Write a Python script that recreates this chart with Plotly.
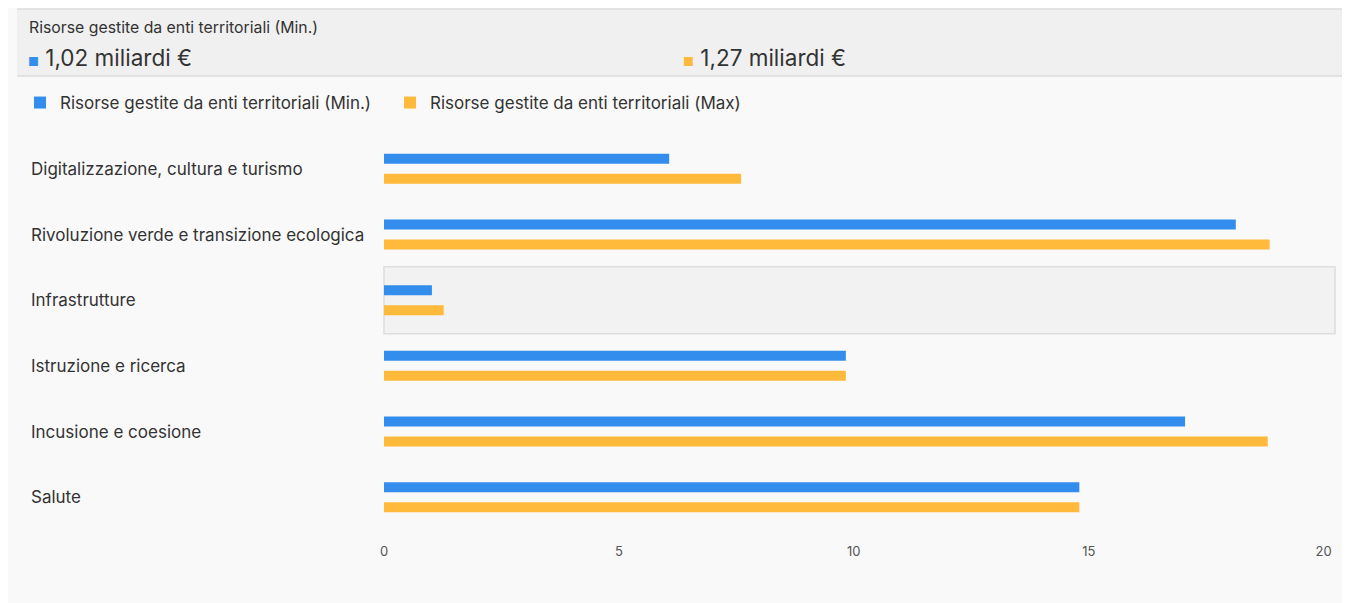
import plotly.graph_objects as go

# data (miliardi di euro)
categories = ["Digitalizzazione, cultura e turismo",
              "Rivoluzione verde e transizione ecologica",
              "Infrastrutture",
              "Istruzione e ricerca",
              "Incusione e coesione",
              "Salute"]
val_min = [6.07, 18.13, 1.02, 9.83, 17.05, 14.8]
val_max = [7.6, 18.85, 1.27, 9.83, 18.81, 14.8]
x_ticks = [0, 5, 10, 15, 20]

name_min = "Risorse gestite da enti territoriali (Min.)"
name_max = "Risorse gestite da enti territoriali (Max)"
highlight = "Infrastrutture"

BLUE = "#338ded"
ORANGE = "#ffb93b"
BG = "#f9f9f9"
FONT = "Inter, Open Sans, sans-serif"

# the page puts the figure 8px in from the top-left corner
OFF = 8
W, H = 1350 - OFF, 603 - OFF
L, R, T, B = 384 - OFF, 24, 136 - OFF, 73

fig = go.Figure()
fig.add_trace(go.Bar(y=categories, x=val_min, orientation="h", name=name_min,
                     marker=dict(color=BLUE, line=dict(width=0))))
fig.add_trace(go.Bar(y=categories, x=val_max, orientation="h", name=name_max,
                     marker=dict(color=ORANGE, line=dict(width=0))))


def px_x(p):
    return (p - OFF - L) / (W - L - R)


def px_y(p):
    return 1 - (p - OFF - T) / (H - T - B)


shapes = [
    # header band
    dict(type="rect", xref="paper", yref="paper", x0=px_x(17), x1=px_x(1350), y0=px_y(76), y1=px_y(9),
         fillcolor="#f0f0f0", line=dict(width=0), layer="below"),
    dict(type="line", xref="paper", yref="paper", x0=px_x(17), x1=px_x(1350), y0=px_y(9), y1=px_y(9),
         line=dict(color="#dcdcdc", width=1.5)),
    dict(type="line", xref="paper", yref="paper", x0=px_x(17), x1=px_x(1350), y0=px_y(76), y1=px_y(76),
         line=dict(color="#dcdcdc", width=1.5)),
]
idx = categories.index(highlight)
shapes.append(dict(type="rect", xref="paper", yref="y", x0=px_x(384), x1=px_x(1335),
                   y0=idx - 0.51, y1=idx + 0.51,
                   fillcolor="#f2f2f2", line=dict(color="#dddddd", width=1.5), layer="below"))

annotations = [
    dict(text=name_min, xref="paper", yref="paper", x=px_x(27), y=px_y(27),
         xanchor="left", yanchor="middle", showarrow=False,
         font=dict(size=15.8, color="#333333", family=FONT)),
    dict(text="<span style='color:%s;font-size:12px'>■</span> %s miliardi €"
              % (BLUE, f"{val_min[idx]:.2f}".replace(".", ",")),
         xref="paper", yref="paper", x=px_x(26), y=px_y(58),
         xanchor="left", yanchor="middle", showarrow=False,
         font=dict(size=22.5, color="#333333", family=FONT)),
    dict(text="<span style='color:%s;font-size:12px'>■</span> %s miliardi €"
              % (ORANGE, f"{val_max[idx]:.2f}".replace(".", ",")),
         xref="paper", yref="paper", x=px_x(681), y=px_y(58),
         xanchor="left", yanchor="middle", showarrow=False,
         font=dict(size=22.5, color="#333333", family=FONT)),
]
for c in categories:
    annotations.append(dict(text=c, xref="paper", yref="y", x=px_x(29), y=c,
                            xanchor="left", yanchor="middle", showarrow=False,
                            font=dict(size=17, color="#333333", family=FONT)))

fig.update_layout(
    width=W, height=H,
    margin=dict(l=L, r=R, t=T, b=B),
    paper_bgcolor=BG, plot_bgcolor=BG,
    font=dict(family=FONT, color="#333333"),
    barmode="group", bargap=0.39, bargroupgap=0.5,
    showlegend=True,
    legend=dict(orientation="h", x=px_x(20), y=px_y(85), xanchor="left", yanchor="top",
                font=dict(size=17, color="#333333", family=FONT), bgcolor="rgba(0,0,0,0)",
                traceorder="normal", itemwidth=30, entrywidth=325),
    xaxis=dict(range=[0, 20.05], tickvals=x_ticks, showgrid=False, zeroline=False,
               showline=False, ticks="", tickfont=dict(size=13, color="#555555"),
               ticklabelstandoff=12, fixedrange=True),
    yaxis=dict(autorange="reversed", showticklabels=False, showgrid=False, zeroline=False,
               showline=False, ticks="", fixedrange=True),
    shapes=shapes,
    annotations=annotations,
)

fig.write_html("out.html")
